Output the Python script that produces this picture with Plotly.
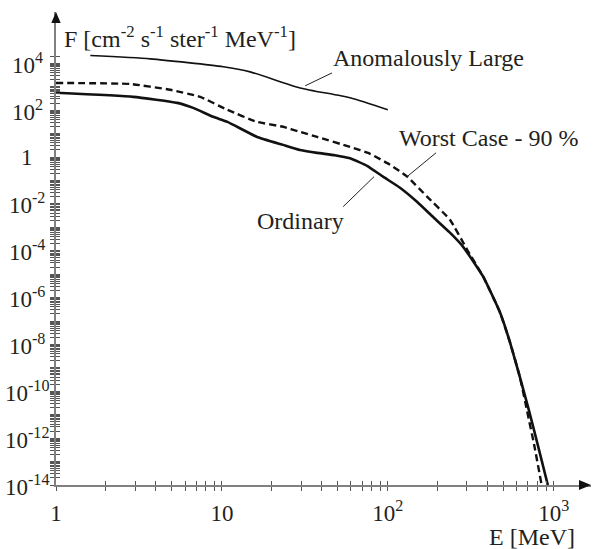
import plotly.graph_objects as go

# ---- data ----
ord_E = [1, 2.92, 5.38, 6.71, 8.87, 10.8, 16.3, 23.4, 29.6, 37.5, 48, 59.3, 75, 93.6, 118.5,
         150, 187, 237, 284, 376, 475, 546, 627, 710, 804, 922]
ord_F = [550, 370, 205, 125, 52, 31.6, 7.2, 3.3, 2.0, 1.5, 1.2, 0.88, 0.42, 0.145, 0.049,
         0.0123, 2.8e-3, 5.9e-4, 1.5e-4, 7.8e-6, 2.3e-7, 1.2e-8, 3.8e-10, 1.5e-11, 4.8e-13, 1e-14]

worst_E = [1, 2.80, 4.88, 7.40, 10.8, 16.3, 23.4, 29.6, 37.5, 59.3, 78.2, 103, 131, 173,
           237, 301, 376, 475, 546, 627, 692, 762, 846]
worst_F = [1450, 1310, 740, 370, 103, 31.6, 19.5, 11.8, 7.2, 2.7, 1.37, 0.47, 0.145, 0.020,
           2.1e-3, 1.1e-4, 7.8e-6, 2.3e-7, 1.2e-8, 3.8e-10, 1.4e-11, 5.4e-13, 1e-14]

anom_E = [1.61, 3.70, 10.2, 14.8, 29.6, 59.3, 100]
anom_F = [2.14e4, 1.55e4, 7.1e3, 4.3e3, 890, 336, 103]

x_major = [1, 10, 100, 1000]
x_major_text = ["1", "10", "10<sup>2</sup>", "10<sup>3</sup>"]
y_label_exp = [4, 2, 0, -2, -4, -6, -8, -10, -12, -14]

FONT = "Liberation Serif, Times New Roman, DejaVu Serif, serif"
TXT = "#231f20"
AX = "#808080"
TK = "#555555"

# tick positions (axis structure)
x_minor = [d * 10 ** k for k in range(0, 3) for d in range(2, 10)]
y_major = [10.0 ** k for k in range(-14, 5)]
y_minor = [d * 10.0 ** k for k in range(-14, 4) for d in range(2, 10)] + [2e4]

fig = go.Figure()
fig.add_trace(go.Scatter(x=anom_E, y=anom_F, mode="lines",
                         line=dict(color="#111", width=1.6, shape="spline", smoothing=0.6),
                         showlegend=False))
fig.add_trace(go.Scatter(x=worst_E, y=worst_F, mode="lines",
                         line=dict(color="#111", width=2.4, dash="7px,4px", shape="spline", smoothing=0.4),
                         showlegend=False))
fig.add_trace(go.Scatter(x=ord_E, y=ord_F, mode="lines",
                         line=dict(color="#111", width=2.6, shape="spline", smoothing=0.4),
                         showlegend=False))
fig.add_trace(go.Scatter(x=[], y=[], xaxis="x2", yaxis="y2", showlegend=False))

xr = [0, 3.225]
yr = [-14, 6.19]
common = dict(type="log", showgrid=False, zeroline=False, tickcolor=TK, tickwidth=1, ticklen=4)


def minor(vals, side):
    return dict(tickmode="array", tickvals=vals, ticks=side, ticklen=4, tickwidth=1,
                tickcolor=TK, showgrid=False)


fig.update_layout(
    width=593, height=549,
    margin=dict(l=56, r=2, t=12, b=64),
    paper_bgcolor="white", plot_bgcolor="white",
    font=dict(family=FONT, color=TXT),
    xaxis=dict(range=xr, showline=True, linecolor=AX, linewidth=2, ticks="outside",
               tickmode="array", tickvals=x_major, ticktext=x_major_text, ticklabelstandoff=2,
               minor=minor(x_minor, "outside"),
               tickfont=dict(family=FONT, size=23, color=TXT), **common),
    xaxis2=dict(range=xr, overlaying="x", anchor="y", side="bottom", showline=False,
                ticks="inside", tickmode="array", tickvals=x_major, showticklabels=False,
                minor=minor(x_minor, "inside"), **common),
    yaxis=dict(range=yr, showline=True, linecolor=AX, linewidth=2, ticks="outside",
               tickmode="array", tickvals=y_major, showticklabels=False,
               minor=minor(y_minor, "outside"), **common),
    yaxis2=dict(range=yr, overlaying="y", anchor="x", side="left", showline=False,
                ticks="inside", tickmode="array", tickvals=y_major, showticklabels=False,
                minor=minor(y_minor, "inside"), **common),
)

ann = []
for e in y_label_exp:
    t = "1" if e == 0 else "10<sup>%d</sup>" % e
    ann.append(dict(x=0, xref="paper", xshift=-29, y=e, yref="y", text=t, showarrow=False,
                    xanchor="center", yanchor="middle",
                    font=dict(family=FONT, size=23, color=TXT)))

# axis titles
ann.append(dict(x=0, xref="paper", xshift=6, y=1, yref="paper", yshift=-25,
                text="F [cm<sup>-2</sup> s<sup>-1</sup> ster<sup>-1</sup> MeV<sup>-1</sup>]",
                showarrow=False, xanchor="left", yanchor="middle",
                font=dict(family=FONT, size=24, color=TXT)))
ann.append(dict(x=(532 - 56) / 535, xref="paper", y=0, yref="paper", yshift=-52,
                text="E [MeV]", showarrow=False, xanchor="center", yanchor="middle",
                font=dict(family=FONT, size=24, color=TXT)))

# curve labels
labels = [("Anomalously Large", 2.243, 4.23), ("Worst Case - 90 %", 2.610, 0.82), ("Ordinary", 1.472, -2.72)]
for txt, lx, ly in labels:
    ann.append(dict(x=lx, y=ly, xref="x", yref="y", text=txt, showarrow=False,
                    xanchor="center", yanchor="middle",
                    font=dict(family=FONT, size=24, color=TXT)))

fig.update_layout(annotations=ann)

# leader lines (tail -> head), log10 coordinates
leaders = [((1.664, 3.59), (1.502, 3.04)),
           ((2.291, 0.18), (2.116, -0.84)),
           ((1.731, -2.12), (1.917, -0.84))]
for (tx, ty), (hx, hy) in leaders:
    fig.add_shape(type="line", xref="x", yref="y", x0=10 ** tx, y0=10 ** ty, x1=10 ** hx, y1=10 ** hy,
                  line=dict(color="#222", width=1))

# arrowheads on axes (paper coords)
pw, ph = 535.0, 473.0
fig.add_shape(type="path", xref="paper", yref="paper",
              path="M 0 1 L %f %f L %f %f Z" % (-4.7 / pw, 1 - 11 / ph, 4.7 / pw, 1 - 11 / ph),
              fillcolor="#111", line=dict(width=0))
fig.add_shape(type="path", xref="paper", yref="paper",
              path="M 1 0 L %f %f L %f %f Z" % (1 - 12 / pw, -5 / ph, 1 - 12 / pw, 5 / ph),
              fillcolor="#111", line=dict(width=0))

fig.write_html("out.html")
